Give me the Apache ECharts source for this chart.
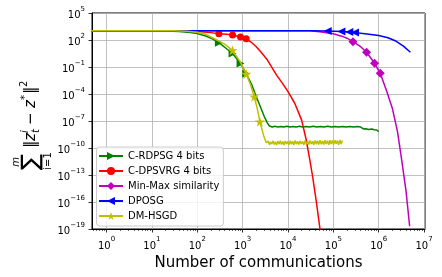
<!DOCTYPE html>
<html><head><meta charset="utf-8">
<script src="https://cdn.jsdelivr.net/npm/echarts@6/dist/echarts.min.js"></script>
<style>html,body{margin:0;padding:0;background:#fff}#c{width:442px;height:277px}</style>
</head><body><div id="c"></div>
<script>
// ---- data ----
const seriesNames = ['C-RDPSG 4 bits', 'C-DPSVRG 4 bits', 'Min-Max similarity', 'DPOSG', 'DM-HSGD'];
const xTickValues = [1, 10, 100, 1000, 1e4, 1e5, 1e6, 1e7];
const yTickValues = [1e-19, 1e-16, 1e-13, 1e-10, 1e-7, 1e-4, 1e-1, 1e2, 1e5];

const rdpsgX = [0.45, 10, 20, 40, 70, 100, 160, 220, 300, 450, 600, 900, 1200, 1600, 2000, 2500, 3000, 3500, 3900,
  4500, 5200, 6000, 7000, 8000, 9500, 11000, 13000, 15000, 18000, 21000, 25000, 30000, 36000, 43000, 52000, 62000,
  75000, 90000, 110000, 130000, 160000, 190000, 230000, 280000, 340000, 400000, 440000, 460000, 520000, 600000,
  700000, 800000, 900000, 1000000];
const rdpsgY = [1070, 1070, 1000, 890, 690, 525, 263, 126, 50, 10, 3.2, 0.25, 0.018, 1e-3, 5e-5, 3.2e-6, 3.2e-7, 6.3e-8, 2.8e-8,
  2.15e-8, 2.55e-8, 2.1e-8, 2.5e-8, 2.15e-8, 2.6e-8, 2.15e-8, 2.5e-8, 2.1e-8, 2.55e-8, 2.15e-8, 2.5e-8, 2.1e-8, 2.55e-8, 2.15e-8,
  2.5e-8, 2.1e-8, 2.55e-8, 2.15e-8, 2.5e-8, 2.1e-8, 2.5e-8, 2.15e-8, 2.5e-8, 2.1e-8, 2.45e-8, 2.1e-8, 2.3e-8, 1.3e-8,
  1.4e-8, 1.15e-8, 1.3e-8, 1.05e-8, 1.0e-8, 6.5e-9];
const rdpsgMarks = [8, 10, 11, 12];

const dpsvrgX = [0.45, 10, 50, 100, 200, 300, 450, 600, 900, 1200, 1600, 2000, 2500, 3500, 5600, 7500, 10000, 14000,
  20000, 25000, 30000, 35000, 42000, 52000];
const dpsvrgY = [1070, 1070, 1040, 890, 660, 500, 427, 363, 214, 135, 50, 18, 5, 0.63, 0.0126, 1.6e-3, 1.8e-4, 1e-5,
  1.26e-7, 1e-9, 6.3e-12, 6.3e-14, 1.26e-16, 4e-20];
const dpsvrgMarks = [5, 7, 8, 9];

const minmaxX = [0.45, 1e4, 3e4, 5e4, 1e5, 1.6e5, 2e5, 2.7e5, 4e5, 5.4e5, 8.1e5, 1.08e6, 1.5e6, 2e6, 2.6e6, 3.2e6, 4e6, 4.8e6];
const minmaxY = [1070, 1070, 1040, 830, 500, 250, 158, 65, 18, 4.3, 0.26, 0.02, 2e-4, 2.5e-6, 6.3e-9, 5e-12, 1.6e-15, 2e-19];
const minmaxMarks = [7, 9, 10, 11];

const dposgX = [0.45, 3e4, 7.5e4, 1.5e5, 2.25e5, 3e5, 5e5, 1e6, 1.6e6, 2.3e6, 3.5e6, 5e6];
const dposgY = [1070, 1070, 1000, 890, 760, 660, 500, 316, 178, 83, 21, 4.3];
const dposgMarks = [2, 3, 4, 5];

const dmhsgdX = [0.45, 10, 30, 60, 100, 160, 260, 400, 600, 900, 1200, 1500, 1800, 2100, 2400, 2900, 3300,
  3500, 3700, 3900, 4100, 4400, 4700, 5000, 5300, 5600, 6000, 6400, 6800, 7200, 7700, 8200, 8700, 9300, 9900, 10500,
  11200, 11900, 12700, 13500, 14400, 15300, 16300, 17400, 18500, 19700, 21000, 22400, 23800, 25400, 27000, 28800,
  30700, 32700, 34800, 37000, 39500, 42000, 44800, 47700, 50800, 54100, 57600, 61400, 65400, 69600, 74200, 79000,
  84100, 89600, 95500, 101700, 108300, 115400, 122900, 130900, 139400, 148500, 158000];
const dmhsgdY = [1070, 1070, 1050, 960, 740, 400, 112, 35, 7.1, 0.32, 0.0166, 1e-3, 5e-5, 2.5e-6, 8.3e-8, 2.5e-9, 4e-10,
  2.6e-10, 5.6e-10, 2.2e-10, 4.8e-10, 2.8e-10, 6.2e-10, 2.4e-10, 5.0e-10, 2.1e-10, 5.8e-10, 2.7e-10, 6.6e-10, 2.5e-10,
  5.2e-10, 2.2e-10, 6.0e-10, 2.9e-10, 5.4e-10, 2.3e-10, 6.4e-10, 2.6e-10, 5.6e-10, 2.2e-10, 6.8e-10, 2.7e-10, 5.5e-10,
  2.4e-10, 6.2e-10, 2.9e-10, 5.3e-10, 2.2e-10, 6.7e-10, 2.6e-10, 5.9e-10, 2.4e-10, 7.0e-10, 2.8e-10, 5.7e-10, 2.3e-10,
  6.9e-10, 2.7e-10, 6.3e-10, 2.5e-10, 7.2e-10, 2.6e-10, 6.1e-10, 2.4e-10, 7.4e-10, 2.8e-10, 6.5e-10, 2.3e-10, 7.3e-10,
  2.7e-10, 6.8e-10, 2.4e-10, 7.5e-10, 2.9e-10, 6.6e-10, 2.3e-10, 7.6e-10, 2.7e-10, 7.0e-10];
const dmhsgdMarks = [8, 10, 12, 14];

// ---- styling ----
const colors = ['#008000', '#ff0000', '#bf00bf', '#0000ff', '#bfbf00'];
const STAR = 'path://M100,0 L122.5,69.1 L195.1,69.1 L136.3,111.8 L158.8,180.9 L100,138.2 L41.2,180.9 L63.7,111.8 L4.9,69.1 L77.5,69.1 Z';
const symbols = ['triangle', 'circle', 'diamond', 'triangle', STAR];
const symbolRot = [-90, 0, 0, 90, 0];
const symbolSizes = [8, 7, 9, 8, 10];

function pairs(xs, ys, marks) {
  return xs.map((x, i) => marks.indexOf(i) >= 0 ? [x, ys[i]] : { value: [x, ys[i]], symbol: 'none' });
}
const allData = [
  pairs(rdpsgX, rdpsgY, rdpsgMarks),
  pairs(dpsvrgX, dpsvrgY, dpsvrgMarks),
  pairs(minmaxX, minmaxY, minmaxMarks),
  pairs(dposgX, dposgY, dposgMarks),
  pairs(dmhsgdX, dmhsgdY, dmhsgdMarks)
];

const FONT = 'DejaVu Sans';
function powLabel(v) {
  const e = Math.round(Math.log10(v));
  return '{b|10}{s|' + String(e).replace('-', '\u2212') + '}';
}
const richLbl = {
  b: { fontSize: 10, fontFamily: FONT, color: '#000', lineHeight: 15, verticalAlign: 'bottom' },
  s: { fontSize: 7, fontFamily: FONT, color: '#000', lineHeight: 9, verticalAlign: 'top' }
};
const minorX = [];
for (let n = -1; n <= 6; n++) for (let k = 2; k <= 9; k++) {
  const v = k * Math.pow(10, n);
  if (v > 0.478 && v < 1.05e7) minorX.push(v);
}

const xMin = Math.pow(10, -0.32), xMax = Math.pow(10, 7.02);

const chart = echarts.init(document.getElementById('c'), null, { renderer: 'canvas' });
chart.setOption({
  animation: false,
  backgroundColor: '#fff',
  grid: { left: 92, right: 17, top: 13, bottom: 48, show: true, borderColor: '#000', borderWidth: 1,
          containLabel: false, outerBoundsMode: 'none' },
  xAxis: [{
    type: 'log', min: xMin, max: xMax, position: 'bottom',
    name: 'Number of communications', nameLocation: 'middle', nameGap: 25,
    nameTextStyle: { fontSize: 15, fontFamily: FONT, color: '#000' },
    axisLine: { show: true, lineStyle: { color: '#000', width: 1 } },
    axisTick: { show: true, length: 3.5, lineStyle: { color: '#000', width: 0.8 }, customValues: xTickValues },
    axisLabel: { show: true, margin: 7, customValues: xTickValues, formatter: powLabel, rich: richLbl },
    splitLine: { show: true, lineStyle: { color: '#b0b0b0', width: 0.8 } },
    minorTick: { show: false }
  }, {
    type: 'log', min: xMin, max: xMax, position: 'bottom',
    axisLine: { show: false },
    axisTick: { show: true, length: 2, lineStyle: { color: '#000', width: 0.6 }, customValues: minorX },
    axisLabel: { show: false },
    splitLine: { show: false }
  }],
  yAxis: {
    type: 'log', min: 1e-19, max: 1e5,
    axisLine: { show: true, lineStyle: { color: '#000', width: 1 } },
    axisTick: { show: true, length: 3.5, lineStyle: { color: '#000', width: 0.8 }, customValues: yTickValues },
    axisLabel: { show: true, margin: 7, customValues: yTickValues, formatter: powLabel, rich: richLbl },
    splitLine: { show: true, lineStyle: { color: '#b0b0b0', width: 0.8 } }
  },
  legend: {
    orient: 'vertical', left: 96.5, top: 147,
    itemWidth: 24, itemHeight: 10, itemGap: 5,
    padding: [4, 4, 5, 1.5],
    borderColor: '#cccccc', borderWidth: 1, borderRadius: 3,
    backgroundColor: 'rgba(255,255,255,0.8)',
    textStyle: { fontSize: 10, fontFamily: FONT, color: '#000' },
    data: seriesNames
  },
  graphic: [{
    type: 'group', x: 32, y: 170, rotation: Math.PI / 2,
    children: [
      { type: 'text', x: 0, y: 0, style: { text: '\u2211', font: '24px "DejaVu Sans"', fill: '#000', align: 'left', verticalAlign: 'middle' } },
      { type: 'text', x: 8, y: -16, style: { text: 'm', font: 'italic 10px "DejaVu Sans"', fill: '#000', align: 'center', verticalAlign: 'middle' } },
      { type: 'text', x: 9, y: 16, style: { text: 'i=1', font: '10px "DejaVu Sans"', fill: '#000', align: 'center', verticalAlign: 'middle' } },
      { type: 'text', x: 22, y: -1, style: { text: '\u2016', font: '15px "DejaVu Sans"', fill: '#000', align: 'left', verticalAlign: 'middle' } },
      { type: 'text', x: 29, y: -1, style: { text: 'z', font: 'italic 15px "DejaVu Sans"', fill: '#000', align: 'left', verticalAlign: 'middle' } },
      { type: 'text', x: 37, y: 4, style: { text: 't', font: 'italic 10px "DejaVu Sans"', fill: '#000', align: 'left', verticalAlign: 'middle' } },
      { type: 'text', x: 37, y: -7, style: { text: 'i', font: 'italic 10px "DejaVu Sans"', fill: '#000', align: 'left', verticalAlign: 'middle' } },
      { type: 'text', x: 45, y: -1, style: { text: '\u2212', font: '15px "DejaVu Sans"', fill: '#000', align: 'left', verticalAlign: 'middle' } },
      { type: 'text', x: 62, y: -1, style: { text: 'z', font: 'italic 15px "DejaVu Sans"', fill: '#000', align: 'left', verticalAlign: 'middle' } },
      { type: 'text', x: 70, y: -7, style: { text: '*', font: '10px "DejaVu Sans"', fill: '#000', align: 'left', verticalAlign: 'middle' } },
      { type: 'text', x: 76, y: -1, style: { text: '\u2016', font: '15px "DejaVu Sans"', fill: '#000', align: 'left', verticalAlign: 'middle' } },
      { type: 'text', x: 83, y: -8, style: { text: '2', font: '10px "DejaVu Sans"', fill: '#000', align: 'left', verticalAlign: 'middle' } }
    ]
  }],
  series: seriesNames.map((name, i) => ({
    name: name, type: 'line', xAxisIndex: 0, yAxisIndex: 0,
    data: allData[i],
    symbol: symbols[i], symbolRotate: symbolRot[i], symbolSize: symbolSizes[i],
    showSymbol: true, showAllSymbol: true,
    color: colors[i],
    lineStyle: { color: colors[i], width: 1.5 },
    itemStyle: { color: colors[i] },
    clip: true, z: 2 + i * 0.1
  }))
});
</script></body></html>
